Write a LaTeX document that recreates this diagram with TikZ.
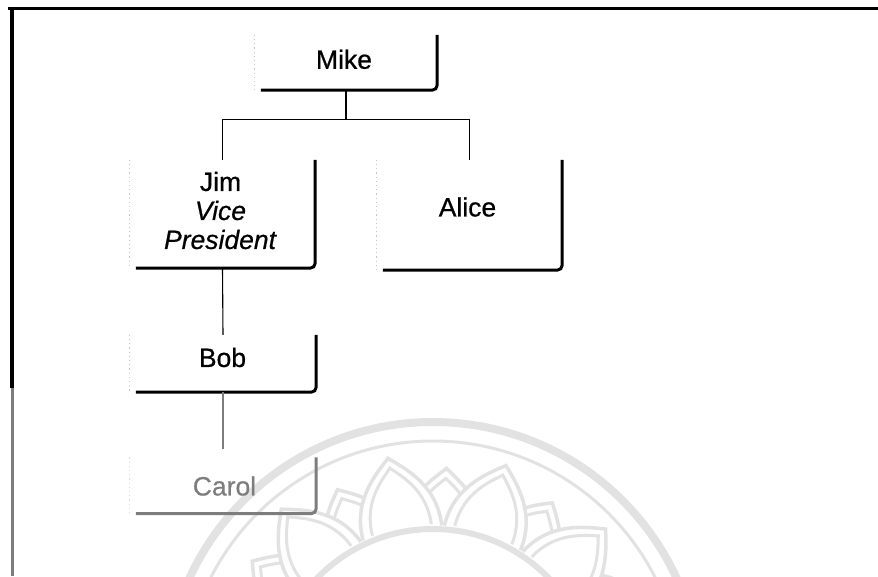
\documentclass[tikz,border=0pt]{standalone}
\usepackage{fontspec}
\setmainfont{Liberation Sans}[FakeBold=0.6, ItalicFeatures={FakeBold=0.6}]
\definecolor{wm}{RGB}{226,226,226}
\definecolor{carolgray}{RGB}{125,125,125}
\begin{document}
\begin{tikzpicture}[x=1pt,y=-1pt,
  box/.style={draw=none, inner sep=0pt, minimum width=#1},
  boxshade/.style={line width=3pt, rounded corners=5pt},
  leftdots/.style={gray!45, line width=0.7pt, dash pattern=on 1.2pt off 3pt},
  conn/.style={line width=1.1pt},
  lbl/.style={font=\fontsize{26.5}{29}\selectfont, align=center, inner sep=0pt},
  petal/.style={wm, line width=3.5pt, fill=white},
  petalin/.style={wm, line width=3pt}]
\useasboundingbox (0,0) rectangle (878,576);
% watermark
\begin{scope}
  \clip (14,10) rectangle (878,576);
  \draw[wm, line width=8pt] (433,690) circle (268);
  \draw[wm, line width=3pt] (433,690) circle (249);
  \foreach \a in {-54.5,-25.5,3.5,32.5,61.5} {
    \begin{scope}[shift={(433,690)}, rotate=-\a]
      \draw[petal] (-36,-160) .. controls (-38,-192) and (-14,-210) .. (0,-222) .. controls (14,-210) and (38,-192) .. (36,-160);
      \draw[petalin] (-26,-165) .. controls (-28,-190) and (-10,-203) .. (0,-212) .. controls (10,-203) and (28,-190) .. (26,-165);
    \end{scope}
  }
  \foreach \a in {-69,-40,-11,18,47,76} {
    \begin{scope}[shift={(433,690)}, rotate=-\a]
      \draw[petal] (-40,-160) .. controls (-43,-200) and (-16,-222) .. (0,-236) .. controls (16,-222) and (43,-200) .. (40,-160);
      \draw[petalin] (-30,-163) .. controls (-32,-197) and (-11,-215) .. (0,-226) .. controls (11,-215) and (32,-197) .. (30,-163);
    \end{scope}
  }
  \draw[wm, line width=6pt] (433,690) circle (161);
\end{scope}
% frame
\draw[line width=3pt] (8,8.5) -- (878,8.5);
\draw[line width=4pt] (11.5,7) -- (11.5,388);
\draw[carolgray, line width=3.5pt] (12.5,388) -- (12.5,576);
% boxes
\node[box=182pt, minimum height=55pt] (mike) at (346,62.5) {};
\node[box=185pt, minimum height=108pt] (jim) at (222.5,214) {};
\node[box=185pt, minimum height=110pt] (alice) at (469.5,215) {};
\node[box=186pt, minimum height=57pt] (bob) at (223,363.5) {};
\node[box=186pt, minimum height=56pt] (carol) at (223,485.5) {};
\foreach \n in {mike,jim,alice,bob} {
  \draw[boxshade] (\n.north east) -- (\n.south east) -- ([xshift=6pt]\n.south west);
  \draw[leftdots] (\n.north west) -- (\n.south west);
}
\draw[boxshade, carolgray] (carol.north east) -- (carol.south east) -- ([xshift=6pt]carol.south west);
\draw[leftdots, gray!30] (carol.north west) -- (carol.south west);
% labels
\node[lbl] (mikeT) at (344,59.3) {Mike};
\node[lbl] (jimT) at (220.5,210.5) {Jim\\\textit{Vice}\\\textit{President}};
\node[lbl] (aliceT) at (467.5,207) {Alice};
\node[lbl] (bobT) at (222.5,357.5) {Bob};
\node[lbl, text=carolgray] (carolT) at (224.5,486) {Carol};
% connectors
\draw[conn] (mike.south) -- ++(0,29) coordinate (bus);
\draw[conn] (jim.north) |- (bus) -| (alice.north);
\draw[conn] (jim.south) -- (bob.north);
\draw[conn, carolgray] (bob.south) -- ([yshift=8pt]carol.north);
\end{tikzpicture}
\end{document}
